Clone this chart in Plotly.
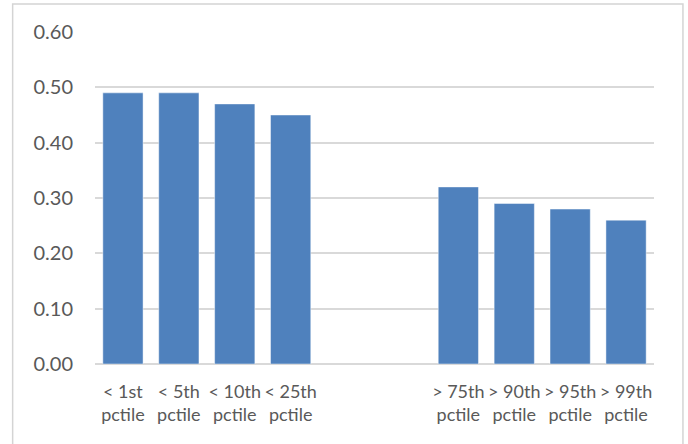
import plotly.graph_objects as go

categories = ["< 1st<br>pctile", "< 5th<br>pctile", "< 10th<br>pctile", "< 25th<br>pctile",
              " ", "  ",
              "> 75th<br>pctile", "> 90th<br>pctile", "> 95th<br>pctile", "> 99th<br>pctile"]
values = [0.49, 0.49, 0.47, 0.45, None, None, 0.32, 0.29, 0.28, 0.26]
y_ticks = [0.0, 0.1, 0.2, 0.3, 0.4, 0.5, 0.6]

W, H = 688, 444
L, R, T, B = 94.5, 33.5, 32, 80
pw, ph = W - L - R, H - T - B

fig = go.Figure(go.Bar(
    x=categories, y=values,
    marker=dict(color="#4f81bd", line=dict(color="rgba(255,255,255,0.45)", width=1)),
))

xfont = dict(family="Lato, Open Sans, sans-serif", size=18, color="#595959")
yfont = dict(family="Lato, Open Sans, sans-serif", size=20, color="#595959")

fig.update_layout(
    width=W, height=H,
    margin=dict(l=L, r=R, t=T, b=B),
    paper_bgcolor="white", plot_bgcolor="white",
    bargap=0.28,
    showlegend=False,
    font=xfont,
    xaxis=dict(type="category", categoryorder="array", categoryarray=categories,
               showgrid=False, showline=False, zeroline=False, ticks="",
               tickfont=xfont, ticklabelstandoff=15),
    yaxis=dict(range=[0, 0.6], tickvals=y_ticks, tickformat=".2f",
               showgrid=True, gridcolor="#d9d9d9", gridwidth=1.5,
               zeroline=True, zerolinecolor="#d9d9d9", zerolinewidth=1.5,
               showline=False, ticks="", tickfont=yfont, ticklabelstandoff=21),
    shapes=[dict(type="rect", xref="paper", yref="paper",
                 x0=(12 - L) / pw, x1=(683.5 - L) / pw,
                 y0=(H - B - 448) / ph, y1=(H - B - 4) / ph,
                 line=dict(color="#d4d4d4", width=1.5), fillcolor="rgba(0,0,0,0)",
                 layer="above")],
)

fig.write_html("out.html", config={"displayModeBar": False},
               post_script="document.body.style.margin='0';document.body.style.overflow='hidden';")
